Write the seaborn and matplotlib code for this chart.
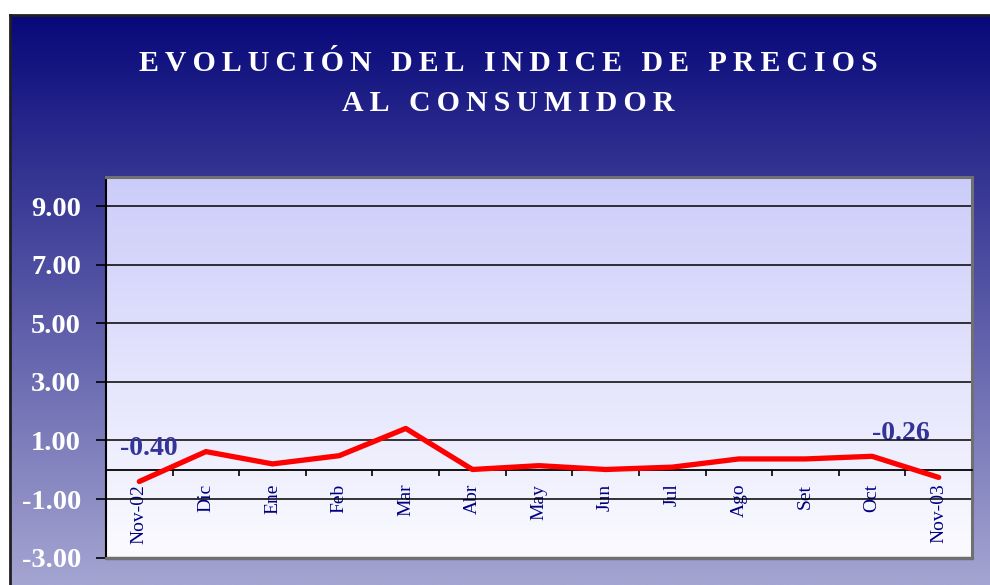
import numpy as np
import pandas as pd
import matplotlib
matplotlib.use("Agg")
import matplotlib.pyplot as plt
import seaborn as sns
from matplotlib.colors import LinearSegmentedColormap

# ---- data ----
months = ["Nov-02", "Dic", "Ene", "Feb", "Mar", "Abr", "May", "Jun",
          "Jul", "Ago", "Set", "Oct", "Nov-03"]
ipc = [-0.40, 0.62, 0.20, 0.48, 1.41, 0.01, 0.14, 0.01, 0.09, 0.37, 0.37, 0.46, -0.26]
y_ticks = [-3, -1, 1, 3, 5, 7, 9]
title_lines = ["EVOLUCIÓN DEL INDICE DE PRECIOS", "AL CONSUMIDOR"]

df = pd.DataFrame({"pos": np.arange(len(months)), "mes": months, "ipc": ipc})

sns.set_style("white")
plt.rcParams['font.family'] = ['Liberation Serif', 'DejaVu Serif']

W, H = 990, 585
fig = plt.figure(figsize=(W / 100, H / 100), dpi=100)
fig.patch.set_facecolor('white')

# ---- outer gradient panel ----
grad = np.linspace(0, 1, 256).reshape(-1, 1)
bg = fig.add_axes([10 / W, 0, 1 - 10 / W, 1 - 15 / H])
cmap_bg = LinearSegmentedColormap.from_list('bg', ['#08087A', '#A5A5D2'])
bg.imshow(grad, aspect='auto', cmap=cmap_bg, extent=[0, 1, 0, 1], origin='upper')
bg.set_xlim(0, 1); bg.set_ylim(0, 1)
bg.set_xticks([]); bg.set_yticks([])
for s in ['right', 'bottom']:
    bg.spines[s].set_visible(False)
for s in ['left', 'top']:
    bg.spines[s].set_color('#202020')
    bg.spines[s].set_linewidth(2)

# ---- title ----
def spaced(s):
    return "\u2009 \u2009".join("\u2009".join(w) for w in s.split())

fig.text(0.513, 1 - 71 / H, spaced(title_lines[0]), ha='center', va='baseline',
         color='white', fontsize=21.5, fontweight='bold')
fig.text(0.513, 1 - 111 / H, spaced(title_lines[1]), ha='center', va='baseline',
         color='white', fontsize=21.5, fontweight='bold')

# ---- main axes ----
ax = fig.add_axes([106 / W, 27.3 / H, 866 / W, 381 / H])
cmap_pl = LinearSegmentedColormap.from_list('pl', ['#CCCCFA', '#FBFBFF'])
ax.imshow(grad, aspect='auto', cmap=cmap_pl, extent=[0, 1, 0, 1], origin='upper',
          transform=ax.transAxes, zorder=0)

sns.lineplot(data=df, x="pos", y="ipc", color='#FF0000', lw=3.8, ax=ax, zorder=5,
             legend=False)

ax.set_xlim(-0.5, len(months) - 0.5)
ax.set_ylim(-3, 10)
ax.set_xlabel("")
ax.set_ylabel("")

# gridlines
for v in y_ticks:
    if v > -3:
        ax.axhline(v, color='black', lw=1.1, zorder=2)

# spines
ax.spines['bottom'].set_position(('data', 0))
ax.spines['bottom'].set_color('black')
ax.spines['bottom'].set_linewidth(1.3)
ax.spines['bottom'].set_zorder(3)
ax.spines['left'].set_color('black')
ax.spines['left'].set_linewidth(1.5)
for s in ['top', 'right']:
    ax.spines[s].set_color('#707070')
    ax.spines[s].set_linewidth(2.2)
ax.plot([0, 1], [0, 0], transform=ax.transAxes, color='#707070', lw=2.5,
        clip_on=False, zorder=6)

# x ticks
ax.set_xticks(df["pos"])
ax.set_xticklabels(df["mes"], rotation=90, color='#000080', fontsize=14)
ax.set_xticks(np.arange(-0.5, len(months), 1), minor=True)
ax.tick_params(axis='x', which='major', bottom=True, length=0, pad=10)
ax.tick_params(axis='x', which='minor', bottom=True, length=4.5, width=1.2,
               direction='out', color='black')

# y ticks
ax.set_yticks(y_ticks)
ax.set_yticklabels([f"{v:.2f}" for v in y_ticks], color='white',
                   fontweight='bold', fontsize=20.5)
ax.tick_params(axis='y', left=True, length=7, width=1.2, direction='out',
               color='black', pad=11)

# value labels
ax.annotate(f"{ipc[0]:.2f}", xy=(df["pos"].iloc[0], ipc[0]), xytext=(6.5, 24),
            textcoords='offset points', ha='center', va='center',
            color='#333399', fontsize=20, fontweight='bold', zorder=7)
ax.annotate(f"{ipc[-1]:.2f}", xy=(df["pos"].iloc[-1], ipc[-1]), xytext=(-27, 31.5),
            textcoords='offset points', ha='center', va='center',
            color='#333399', fontsize=20, fontweight='bold', zorder=1)

fig.savefig("out.png", dpi=100)
